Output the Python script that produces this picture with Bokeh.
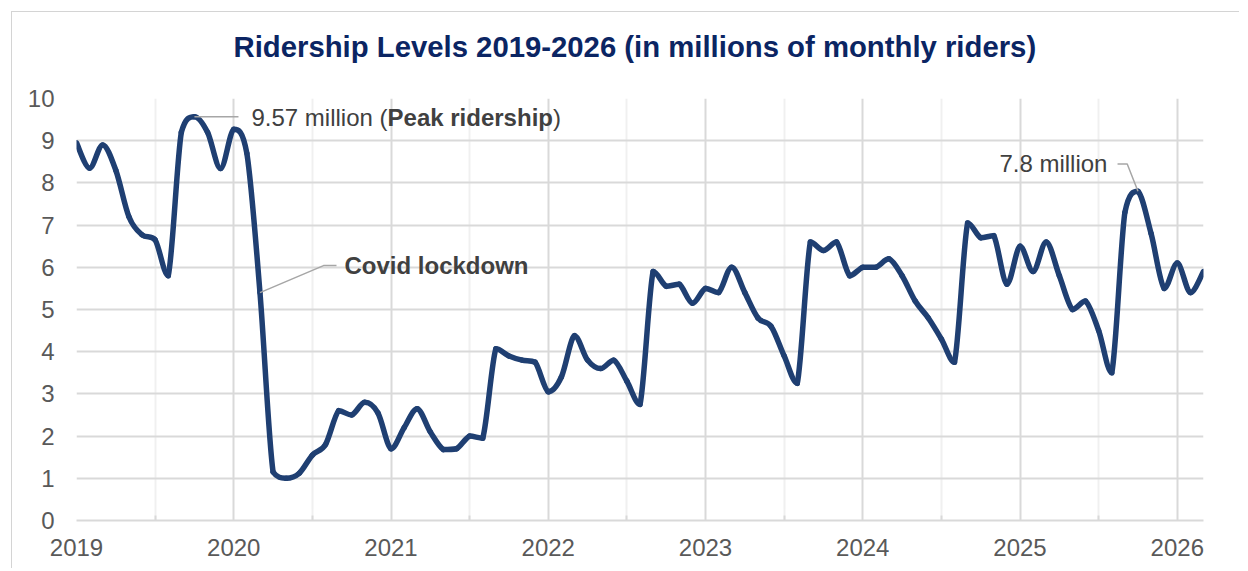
import numpy as np
from bokeh.plotting import figure
from bokeh.models import FixedTicker, Label, Title
from bokeh.embed import file_html
from bokeh.resources import INLINE

# Monthly riders (millions), Jan 2019 .. Mar 2026
riders = [8.95, 8.35, 8.9, 8.3, 7.2, 6.77, 6.65, 5.8, 9.2, 9.57, 9.2, 8.34,
          9.27, 8.7, 5.4, 1.15, 1.0, 1.12, 1.55, 1.8, 2.6, 2.5, 2.8, 2.55,
          1.7, 2.2, 2.65, 2.1, 1.68, 1.7, 2.0, 1.95, 4.07, 3.9, 3.8, 3.75,
          3.05, 3.4, 4.38, 3.8, 3.6, 3.8, 3.3, 2.75, 5.9, 5.55, 5.6, 5.15,
          5.5, 5.4, 6.0, 5.4, 4.8, 4.6, 3.9, 3.25, 6.6, 6.4, 6.6, 5.8,
          6.0, 6.0, 6.2, 5.8, 5.2, 4.8, 4.3, 3.75, 7.05, 6.7, 6.75, 5.6,
          6.5, 5.9, 6.6, 5.8, 5.0, 5.2, 4.5, 3.5, 7.3, 7.8, 6.8, 5.5,
          6.1, 5.4, 5.9]
year_labels = ["2019", "2020", "2021", "2022", "2023", "2024", "2025", "2026"]
y_ticks = list(range(0, 11))

title_text = "Ridership Levels 2019-2026 (in millions of monthly riders)"
peak_idx = 9
covid_idx = 14
late_idx = 81

FONT = "Liberation Sans"
LINE_COLOR = "#1f3f72"

n = len(riders)
xs = np.arange(n, dtype=float)
ys = np.array(riders, dtype=float)

# Smoothed line (Catmull-Rom -> cubic Bezier) through the monthly values,
# with control points kept within each segment's value span (no overshoot)
xp = np.r_[xs[0], xs, xs[-1]]
yp = np.r_[ys[0], ys, ys[-1]]
x0 = xs[:-1]; y0 = ys[:-1]
x1 = xs[1:]; y1 = ys[1:]
cx0 = x0 + (xp[2:n + 1] - xp[0:n - 1]) / 6.0
cy0 = y0 + (yp[2:n + 1] - yp[0:n - 1]) / 6.0
cx1 = x1 - (xp[3:n + 2] - xp[1:n]) / 6.0
cy1 = y1 - (yp[3:n + 2] - yp[1:n]) / 6.0
lo = np.minimum(y0, y1)
hi = np.maximum(y0, y1)
cy0 = np.clip(cy0, lo, hi)
cy1 = np.clip(cy1, lo, hi)

p = figure(width=1228, height=557, output_backend="svg", toolbar_location=None,
           x_range=(0, n - 1), y_range=(0, 10),
           min_border_left=64, min_border_right=37, min_border_top=86, min_border_bottom=49)
p.styles = {"margin-left": "11px", "margin-top": "11px",
            "border-left": "1px solid #d4d4d4", "border-top": "1px solid #d4d4d4"}
p.outline_line_color = None
p.background_fill_color = "white"
p.border_fill_color = "white"

# blank spacer between plot area and title
p.add_layout(Title(text=" ", text_font_size="1px", standoff=33), "above")

p.title.text = title_text
p.title.text_font = FONT
p.title.text_font_size = "29.3px"
p.title.text_font_style = "bold"
p.title.text_color = "#0b2563"
p.title.align = "left"
p.title.offset = 157
p.title.vertical_align = "bottom"
p.title.standoff = 0

year_pos = [12 * k for k in range(len(year_labels))]
half_pos = [12 * k + 6 for k in range(len(year_labels) - 1)]
xticker = FixedTicker(ticks=year_pos, minor_ticks=half_pos)
p.xaxis.ticker = xticker
p.xaxis.major_label_overrides = {pos: lab for pos, lab in zip(year_pos, year_labels)}
p.xgrid.ticker = xticker
p.xgrid.grid_line_color = "#d9d9d9"
p.xgrid.grid_line_width = 2
p.xgrid.minor_grid_line_color = "#f0f0f0"
p.xgrid.minor_grid_line_width = 2

p.yaxis.ticker = FixedTicker(ticks=y_ticks)
p.ygrid.ticker = FixedTicker(ticks=y_ticks)
p.ygrid.grid_line_color = "#d9d9d9"
p.ygrid.grid_line_width = 2

for ax in (p.xaxis, p.yaxis):
    ax.major_label_text_font = FONT
    ax.major_label_text_font_size = "24px"
    ax.major_label_text_color = "#595959"
    ax.major_tick_line_color = None
    ax.major_tick_in = 0
    ax.major_tick_out = 0

p.xaxis.axis_line_color = "#d9d9d9"
p.xaxis.axis_line_width = 2
p.xaxis.minor_tick_line_color = "#d9d9d9"
p.xaxis.minor_tick_line_width = 2
p.xaxis.minor_tick_in = 5
p.xaxis.minor_tick_out = 0
p.xaxis.major_label_standoff = 18

p.yaxis.axis_line_color = None
p.yaxis.minor_tick_line_color = None
p.yaxis.major_label_standoff = 22

p.bezier(x0=x0, y0=y0, x1=x1, y1=y1, cx0=cx0, cy0=cy0, cx1=cx1, cy1=cy1,
         line_color=LINE_COLOR, line_width=5.5, line_cap="round", line_join="round")

LEAD = "#a6a6a6"
ANN = "#404040"
# Peak annotation
p.line([peak_idx, 12.36], [riders[peak_idx], riders[peak_idx]], line_color=LEAD, line_width=1.5)
py_txt = 9.55
p.add_layout(Label(x=13.35, y=py_txt, text="9.57 million (", text_font=FONT, text_font_size="24px",
                   text_color=ANN, text_align="left", text_baseline="middle"))
p.add_layout(Label(x=13.35, y=py_txt, x_offset=136.1, text="Peak ridership", text_font=FONT,
                   text_font_size="24px", text_font_style="bold",
                   text_color=ANN, text_align="left", text_baseline="middle"))
p.add_layout(Label(x=13.35, y=py_txt, x_offset=301.5, text=")", text_font=FONT, text_font_size="24px",
                   text_color=ANN, text_align="left", text_baseline="middle"))

# Covid annotation
p.line([covid_idx, 18.85, 19.84], [riders[covid_idx], 6.04, 6.04], line_color=LEAD, line_width=1.5)
p.add_layout(Label(x=20.45, y=6.04, text="Covid lockdown", text_font=FONT, text_font_size="24px",
                   text_font_style="bold", text_color=ANN, text_align="left", text_baseline="middle"))

# Late peak annotation
p.line([late_idx, 80.18, 79.44], [riders[late_idx], 8.45, 8.45], line_color=LEAD, line_width=1.5)
p.add_layout(Label(x=78.67, y=8.45, text="7.8 million", text_font=FONT, text_font_size="24px",
                   text_color=ANN, text_align="right", text_baseline="middle"))

open("out.html", "w").write(file_html(p, INLINE))
